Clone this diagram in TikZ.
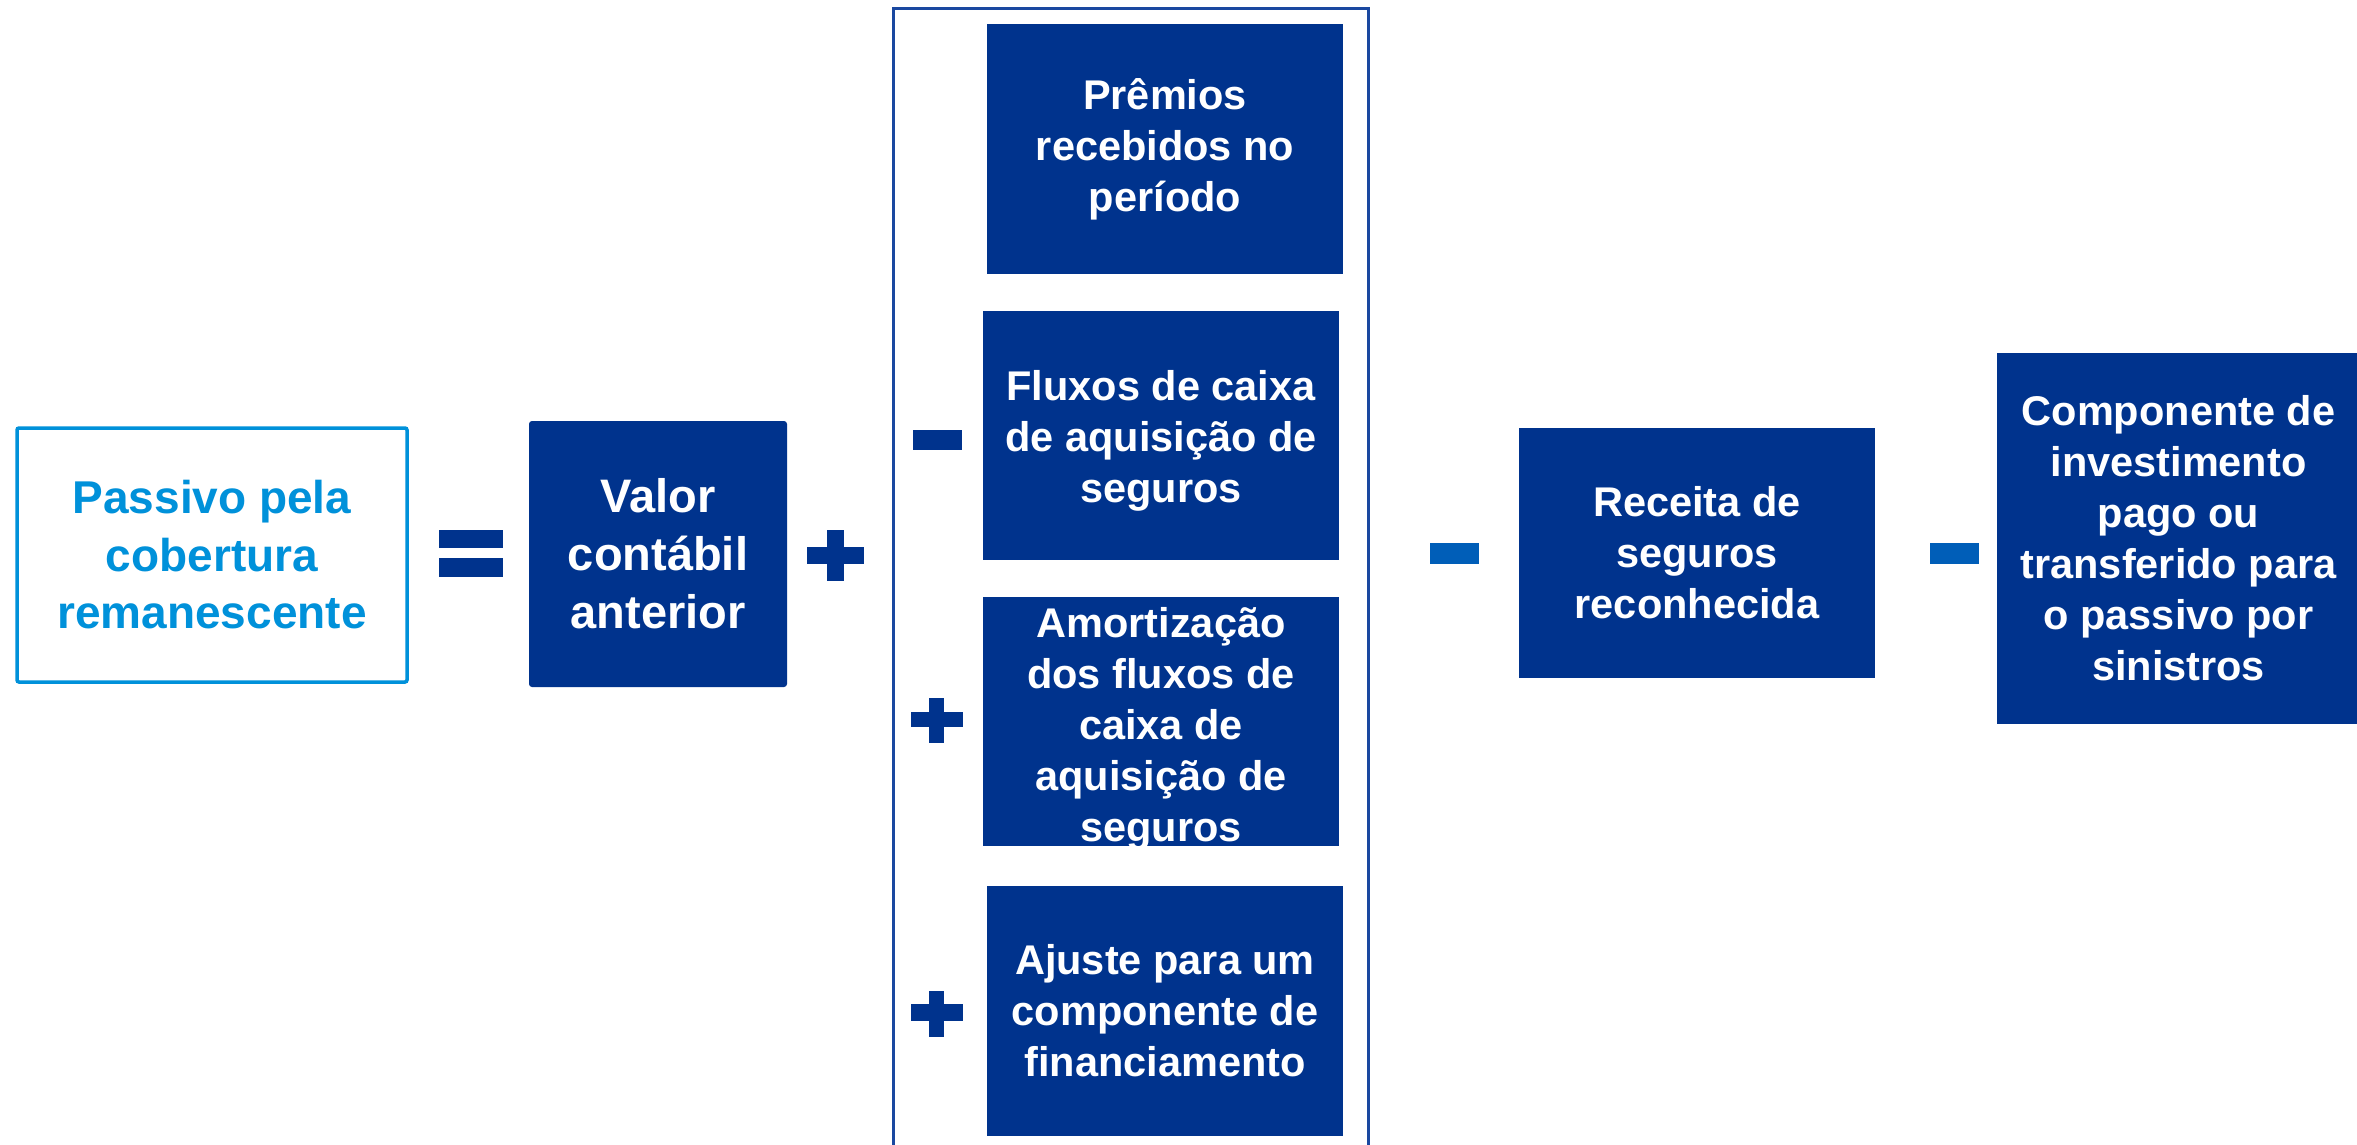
\documentclass[tikz,border=0pt]{standalone}
\usepackage{fontspec}
\setmainfont{Liberation Sans}
\definecolor{navy}{HTML}{00338D}
\definecolor{lblue}{HTML}{0091DA}
\definecolor{mblue}{HTML}{005EB8}
\definecolor{frameblue}{HTML}{1A48A0}
\begin{document}
\begin{tikzpicture}[x=1pt,y=-1pt,
  navybox/.style={fill=navy, draw=none, inner sep=0pt, text=white, align=center,
    font=\bfseries\fontsize{41.5}{51}\selectfont},
  boxtext/.style={inner sep=0pt, text=white, align=center,
    font=\bfseries\fontsize{41.5}{51}\selectfont},
  bigtext/.style={font=\bfseries\fontsize{47}{58}\selectfont},
  outlinebox/.style={draw=lblue, line width=3.5pt, rounded corners=2pt, inner sep=0pt,
    text=lblue, align=center, font=\bfseries\fontsize{46}{57.5}\selectfont},
  opdark/.style={fill=navy},
  oplight/.style={fill=mblue},
  framestyle/.style={draw=frameblue, line width=3.5pt}
]
\useasboundingbox (0,0) rectangle (2357,1145);
\fill[white] (0,0) rectangle (2357,1145);

% left side
\node[outlinebox, minimum width=390pt, minimum height=254pt] (passivo) at (212,555)
  {Passivo pela\\cobertura\\remanescente};
\node[navybox, bigtext, rounded corners=3pt, minimum width=258pt, minimum height=266pt] (valor) at (658,554)
  {Valor\\contábil\\anterior};

% equals sign
\fill[opdark] (439,530) rectangle (503,548);
\fill[opdark] (439,558) rectangle (503,577);
% plus after valor
\fill[opdark] (807,547) rectangle (864,564);
\fill[opdark] (827,530) rectangle (844,581);

% frame
\draw[framestyle] (893.5,1160) -- (893.5,8.5) -- (1368.5,8.5) -- (1368.5,1160);

% inner boxes
\node[navybox, minimum width=356pt, minimum height=250pt] (premios) at (1165,149)
  {Prêmios\\recebidos no\\período};
\node[navybox, minimum width=356pt, minimum height=249pt] (fluxos) at (1161,435.5) {};
\node[boxtext] (fluxostext) at ([yshift=-5pt]fluxos.center)
  {Fluxos de caixa\\de aquisição de\\seguros};
\node[navybox, minimum width=356pt, minimum height=249pt] (amort) at (1161,721.5) {};
\node[boxtext] (amorttext) at ([yshift=-7pt]amort.center)
  {Amortização\\dos fluxos de\\caixa de\\aquisição de\\seguros};
\node[navybox, minimum width=356pt, minimum height=250pt] (ajuste) at (1165,1011)
  {Ajuste para um\\componente de\\financiamento};

% operators in the frame
\fill[opdark] (913,430) rectangle (962,450);
\fill[opdark] (911,712) rectangle (963,727);
\fill[opdark] (929,698) rectangle (944,743);
\fill[opdark] (911,1004) rectangle (963,1021);
\fill[opdark] (929,991) rectangle (944,1037);

% right side
\fill[oplight] (1430,543) rectangle (1479,564);
\node[navybox, minimum width=356pt, minimum height=250pt] (receita) at (1697,553)
  {Receita de\\seguros\\reconhecida};
\fill[oplight] (1930,543) rectangle (1979,564);
\node[navybox, minimum width=363pt, minimum height=371pt] (comp) at (2178.5,538.5)
  {Componente de\\investimento\\pago ou\\transferido para\\o passivo por\\sinistros};
\end{tikzpicture}
\end{document}
